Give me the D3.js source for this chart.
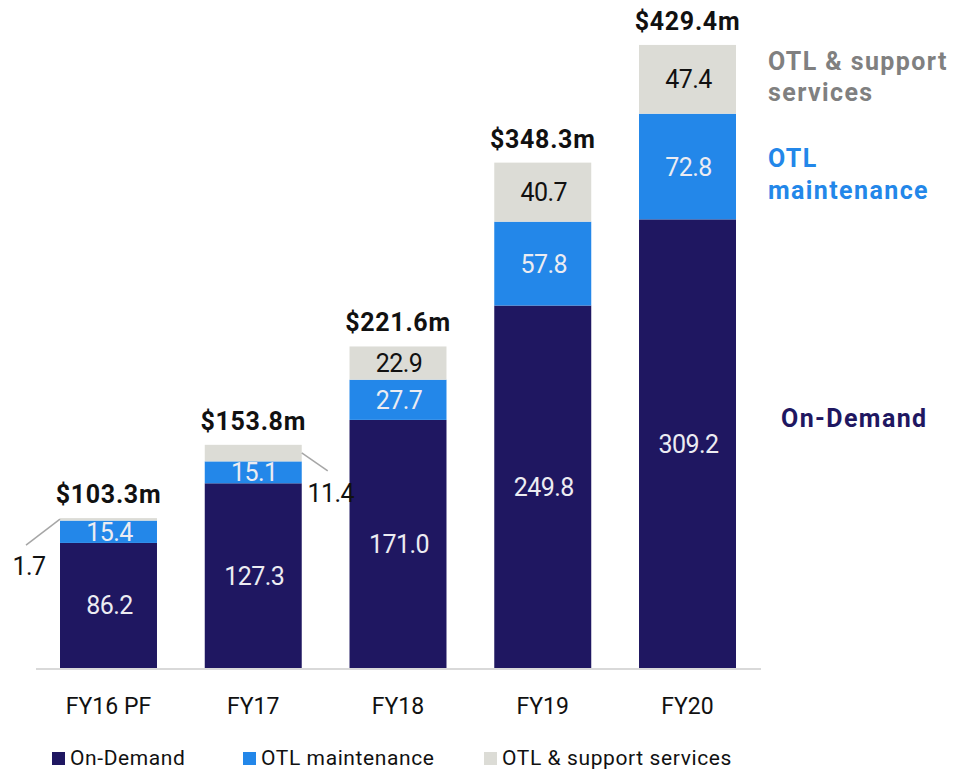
<!DOCTYPE html>
<html>
<head>
<meta charset="utf-8">
<script src="https://cdn.jsdelivr.net/npm/d3@7"></script>
<style>
  html, body { margin: 0; padding: 0; background: #fff; }
  svg { display: block; font-family: Roboto, "Noto Sans", sans-serif; }
</style>
</head>
<body>
<svg id="chart" width="970" height="772"></svg>
<script>
// ---- data ----
const categories = ["FY16 PF", "FY17", "FY18", "FY19", "FY20"];
const onDemand = [86.2, 127.3, 171.0, 249.8, 309.2];
const otlMaintenance = [15.4, 15.1, 27.7, 57.8, 72.8];
const otlSupport = [1.7, 11.4, 22.9, 40.7, 47.4];
const totals = ["$103.3m", "$153.8m", "$221.6m", "$348.3m", "$429.4m"];
const seriesNames = ["On-Demand", "OTL maintenance", "OTL & support services"];
const seriesKeys = ["onDemand", "otlMaintenance", "otlSupport"];

// ---- styles ----
const colors = { onDemand: "#1f1761", otlMaintenance: "#2387e9", otlSupport: "#dcdcd6" };
const labelColors = { onDemand: "#ececf2", otlMaintenance: "#ececf2", otlSupport: "#111111" };

const rows = categories.map((c, i) => ({
  cat: c, onDemand: onDemand[i], otlMaintenance: otlMaintenance[i], otlSupport: otlSupport[i], total: totals[i]
}));

const svg = d3.select("#chart");
const baseY = 668;
const x = d3.scaleBand().domain(categories).range([60, 736]).paddingInner(0.33).paddingOuter(0);
const y = d3.scaleLinear().domain([0, 440]).range([baseY, baseY - 440 * 1.451]);

const stack = d3.stack().keys(seriesKeys);
const stacked = stack(rows);

// bars
const layers = svg.append("g").selectAll("g").data(stacked).join("g")
  .attr("fill", d => colors[d.key]);
layers.selectAll("rect").data(d => d.map(p => Object.assign(p, { key: d.key }))).join("rect")
  .attr("x", d => x(d.data.cat))
  .attr("width", x.bandwidth())
  .attr("y", d => y(d[1]))
  .attr("height", d => y(d[0]) - y(d[1]));

// axis baseline
svg.append("line")
  .attr("x1", 36).attr("x2", 761)
  .attr("y1", baseY + 1).attr("y2", baseY + 1)
  .attr("stroke", "#d9d9d9").attr("stroke-width", 2);

// segment labels (inside when tall enough)
const minInside = 20;
stacked.forEach(layer => {
  layer.forEach(p => {
    const h = y(p[0]) - y(p[1]);
    const v = p.data[layer.key];
    const cx = x(p.data.cat) + x.bandwidth() / 2;
    if (h >= minInside) {
      svg.append("text")
        .attr("x", cx + 1)
        .attr("y", (y(p[0]) + y(p[1])) / 2)
        .attr("dy", "0.36em")
        .attr("text-anchor", "middle")
        .attr("font-size", 25)
        .attr("letter-spacing", -0.6)
        .attr("fill", labelColors[layer.key])
        .text(v.toFixed(1));
    }
  });
});

// outside labels for thin gray segments with leader lines
const leader = svg.append("g");
// FY16 PF: left side
{
  const c = categories[0];
  const x0 = x(c), yTop = y(onDemand[0] + otlMaintenance[0] + otlSupport[0]);
  leader.append("line").attr("x1", x0).attr("y1", yTop + 1).attr("x2", x0 - 34).attr("y2", yTop + 27)
    .attr("stroke", "#a6a6a6").attr("stroke-width", 1.5);
  leader.append("text").attr("x", x0 - 31).attr("y", yTop + 48).attr("dy", "0.36em")
    .attr("text-anchor", "middle").attr("font-size", 25).attr("letter-spacing", -0.6)
    .attr("fill", "#111").text(otlSupport[0].toFixed(1));
}
// FY17: right side
{
  const c = categories[1];
  const x1 = x(c) + x.bandwidth(), yTop = y(onDemand[1] + otlMaintenance[1] + otlSupport[1]);
  leader.append("line").attr("x1", x1).attr("y1", yTop + 8).attr("x2", x1 + 26).attr("y2", yTop + 26)
    .attr("stroke", "#a6a6a6").attr("stroke-width", 1.5);
  leader.append("text").attr("x", x1 + 29).attr("y", yTop + 48).attr("dy", "0.36em")
    .attr("text-anchor", "middle").attr("font-size", 25).attr("letter-spacing", -0.6)
    .attr("fill", "#111").text(otlSupport[1].toFixed(1));
}

// totals
svg.append("g").selectAll("text").data(rows).join("text")
  .attr("x", d => x(d.cat) + x.bandwidth() / 2)
  .attr("y", d => y(d.onDemand + d.otlMaintenance + d.otlSupport) - 15)
  .attr("text-anchor", "middle")
  .attr("font-size", 25)
  .attr("font-weight", 700)
  .attr("letter-spacing", 0.7)
  .attr("fill", "#111")
  .text(d => d.total);

// category labels
svg.append("g").selectAll("text").data(categories).join("text")
  .attr("x", d => x(d) + x.bandwidth() / 2)
  .attr("y", 714)
  .attr("text-anchor", "middle")
  .attr("font-size", 23)
  .attr("fill", "#111")
  .text(d => d);

// right-side series annotations
const ann = svg.append("g").attr("font-size", 25).attr("font-weight", 700).attr("letter-spacing", 1.4);
ann.append("text").attr("x", 768).attr("y", 70).attr("fill", "#808080").text("OTL & support");
ann.append("text").attr("x", 768).attr("y", 101).attr("fill", "#808080").text("services");
ann.append("text").attr("x", 768).attr("y", 167).attr("fill", colors.otlMaintenance).text("OTL");
ann.append("text").attr("x", 768).attr("y", 199).attr("fill", colors.otlMaintenance).text("maintenance");
ann.append("text").attr("x", 781).attr("y", 427).attr("fill", colors.onDemand).text("On-Demand");

// bottom legend
const legendX = [52, 243, 484];
const lg = svg.append("g").selectAll("g").data(seriesKeys).join("g")
  .attr("transform", (d, i) => `translate(${legendX[i]},752)`);
lg.append("rect").attr("width", 13).attr("height", 13).attr("fill", d => colors[d]);
lg.append("text").attr("x", 18).attr("y", 13).attr("font-size", 21).attr("letter-spacing", 0.6).attr("fill", "#111")
  .text((d, i) => seriesNames[i]);
</script>
</body>
</html>
